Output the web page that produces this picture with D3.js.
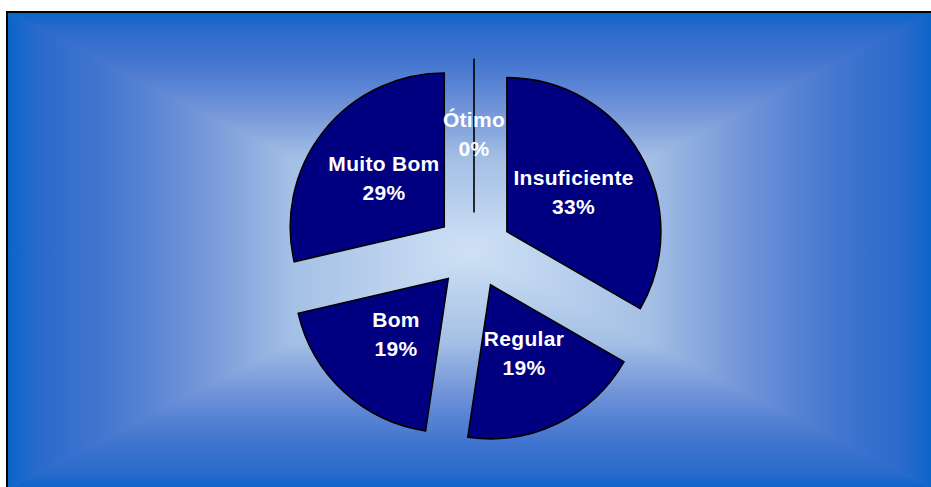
<!DOCTYPE html>
<html>
<head>
<meta charset="utf-8">
<script src="https://cdn.jsdelivr.net/npm/d3@7"></script>
<style>
  body { margin: 0; background: #fff; overflow: hidden; }
  svg { display: block; }
</style>
</head>
<body>
<div id="chart"></div>
<script>
// Data (share of answers, %)
var categories = ["Insuficiente", "Regular", "Bom", "Muito Bom", "Ótimo"];
var values = [33.3, 19.0, 19.0, 28.6, 0];

var svgWidth = 931;
var svgHeight = 487;

// plot area frame (runs past the right and bottom of the picture)
var frame = { x0: 7, y0: 12, x1: 934, y1: 489 };
var fcx = (frame.x0 + frame.x1) / 2;
var fcy = (frame.y0 + frame.y1) / 2;

var svg = d3.select("#chart")
  .append("svg")
  .attr("width", svgWidth)
  .attr("height", svgHeight);

var defs = svg.append("defs");

// "from centre" rectangular gradient, built from 4 triangles
var gradStops = [
  [0, "#0a64c8"], [0.07, "#2a6acc"], [0.2, "#4275cf"], [0.31, "#5a84d4"],
  [0.42, "#7597d9"], [0.525, "#8dacdf"], [0.61, "#a4bfe5"], [1, "#cfe1f5"]
];

var sides = [
  { id: "gTop", pts: [[frame.x0, frame.y0], [frame.x1, frame.y0]], from: [fcx, frame.y0] },
  { id: "gRight", pts: [[frame.x1, frame.y0], [frame.x1, frame.y1]], from: [frame.x1, fcy] },
  { id: "gBottom", pts: [[frame.x1, frame.y1], [frame.x0, frame.y1]], from: [fcx, frame.y1] },
  { id: "gLeft", pts: [[frame.x0, frame.y1], [frame.x0, frame.y0]], from: [frame.x0, fcy] }
];

svg.append("rect")
  .attr("x", frame.x0).attr("y", frame.y0)
  .attr("width", frame.x1 - frame.x0).attr("height", frame.y1 - frame.y0)
  .attr("fill", "#7597d9");

sides.forEach(function(s) {
  var g = defs.append("linearGradient")
    .attr("id", s.id)
    .attr("gradientUnits", "userSpaceOnUse")
    .attr("x1", s.from[0]).attr("y1", s.from[1])
    .attr("x2", fcx).attr("y2", fcy);
  gradStops.forEach(function(st) {
    g.append("stop").attr("offset", st[0]).attr("stop-color", st[1]);
  });
  var p = s.pts.concat([[fcx, fcy]]);
  svg.append("polygon")
    .attr("points", p.map(function(d) { return d.join(","); }).join(" "))
    .attr("fill", "url(#" + s.id + ")")
    .attr("stroke", "url(#" + s.id + ")")
    .attr("stroke-width", 0.6);
});

// only the left and top edges of the frame are inside the picture
svg.append("path")
  .attr("d", `M${frame.x0},${svgHeight + 5}V${frame.y0}H${svgWidth + 5}`)
  .attr("fill", "none")
  .attr("stroke", "#000")
  .attr("stroke-width", 2);

// pie
var cx = 474, cy = 250.6;
var radius = 154;
var explode = 38;

var pie = d3.pie().sort(null)(values);
var arc = d3.arc().innerRadius(0).outerRadius(radius);
var total = d3.sum(values);

var pieGroup = svg.append("g")
  .attr("transform", `translate(${cx}, ${cy})`);

var slices = pieGroup.selectAll("g.slice")
  .data(pie)
  .enter()
  .append("g")
  .attr("class", "slice")
  .attr("transform", function(d) {
    var a = (d.startAngle + d.endAngle) / 2;
    return `translate(${explode * Math.sin(a)}, ${-explode * Math.cos(a)})`;
  });

slices.append("path")
  .attr("d", arc)
  .attr("fill", "#000080")
  .attr("stroke", "#000")
  .attr("stroke-width", 1.6)
  .attr("stroke-linejoin", "miter");

var labels = slices.append("text")
  .attr("transform", function(d) {
    var c = arc.centroid(d);
    return `translate(${c[0]}, ${c[1]})`;
  })
  .attr("text-anchor", "middle")
  .attr("fill", "#fff")
  .style("font-family", "Arial, 'Liberation Sans', sans-serif")
  .style("font-weight", "bold")
  .style("font-size", "21px")
  .style("letter-spacing", "0.3px");

labels.append("tspan")
  .attr("x", 0)
  .attr("y", -8.5)
  .text(function(d, i) { return categories[i]; });

labels.append("tspan")
  .attr("x", 0)
  .attr("y", 20.5)
  .text(function(d) { return Math.round(d.value / total * 100) + "%"; });
</script>
</body>
</html>
